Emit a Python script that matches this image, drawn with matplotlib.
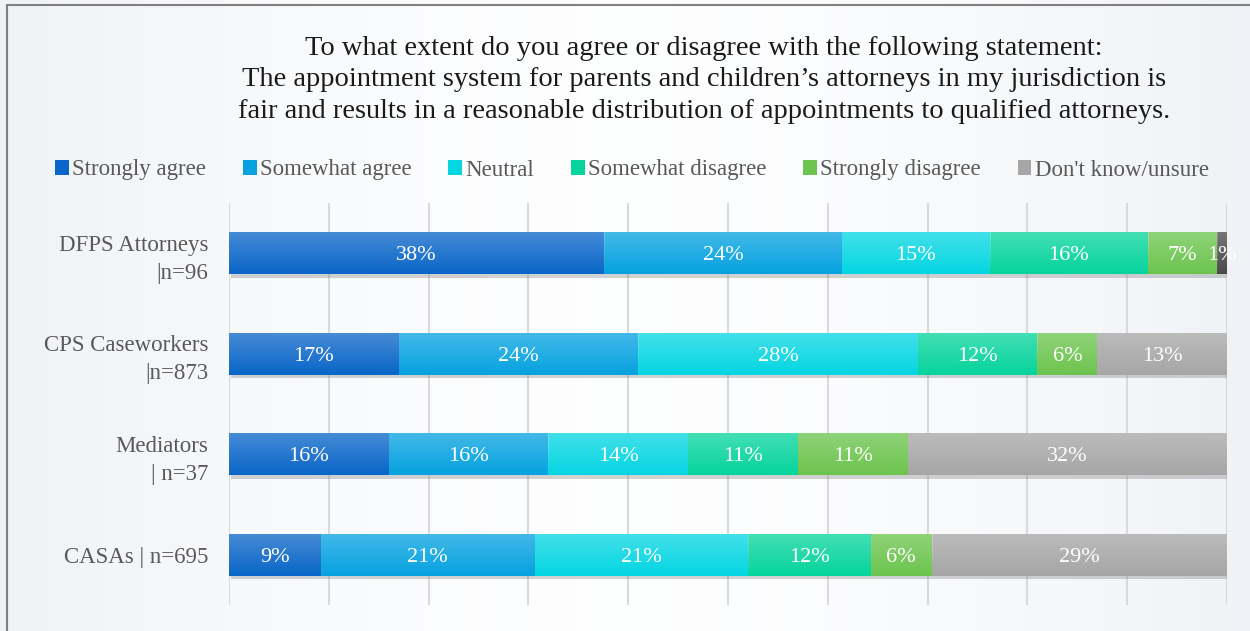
import numpy as np
import matplotlib.pyplot as plt
from matplotlib.patches import Patch, Rectangle

# survey responses (percent, as labelled)
groups = ['DFPS Attorneys\n|n=96', 'CPS Caseworkers\n|n=873', 'Mediators\n| n=37', 'CASAs | n=695']
responses = ['Strongly agree', 'Somewhat agree', 'Neutral', 'Somewhat disagree',
             'Strongly disagree', "Don't know/unsure"]
strongly_agree = [38, 17, 16, 9]
somewhat_agree = [24, 24, 16, 21]
neutral = [15, 28, 14, 21]
somewhat_disagree = [16, 12, 11, 12]
strongly_disagree = [7, 6, 11, 6]
dont_know = [1, 13, 32, 29]

colors = ['#0a66c8', '#06a2e0', '#05d6e2', '#06d49c', '#6cc44e', '#a6a6a6']

plt.rcParams['font.family'] = ['Liberation Serif', 'DejaVu Serif']

fig = plt.figure(figsize=(12.5, 6.31), dpi=100)
fig.patch.set_facecolor('#f6f8fa')

# soft horizontal background gradient (light edges, near white in the middle)
bg = fig.add_axes([0, 0, 1, 1], zorder=-10)
t = np.abs(np.linspace(-1, 1, 256)) ** 1.5
edge = np.array([0.94, 0.95, 0.965])
mid = np.array([0.995, 0.997, 1.0])
rgb = mid[None, :] * (1 - t[:, None]) + edge[None, :] * t[:, None]
bg.imshow(rgb[None, :, :], aspect='auto', extent=[0, 1, 0, 1])
bg.set_axis_off()
fig.add_artist(Rectangle((7 / 1250, -0.1), 1.2, 1.1 - 5 / 631, transform=fig.transFigure,
                         fill=False, edgecolor='#808080', linewidth=1.5))

ax = fig.add_axes([229 / 1250, 1 - 605 / 631, 998 / 1250, 402 / 631])
ax.set_facecolor('none')

series = [strongly_agree, somewhat_agree, neutral, somewhat_disagree, strongly_disagree, dont_know]
data = np.array(series, dtype=float)
totals = data.sum(axis=0)
shares = data / totals * 100

y = np.arange(len(groups))
h = 0.42

# bar shadows
ax.barh(y + 0.035, 100, left=0.2, height=h, color='#808080', alpha=0.35, zorder=1)

left = np.zeros(len(groups))
grad_v = np.linspace(0.25, 0, 64).reshape(-1, 1)
for i, (vals, lab) in enumerate(zip(shares, responses)):
    cols = [colors[i]] * len(groups)
    if i == 5:
        cols[0] = '#4a4a4a'
    bars = ax.barh(y, vals, left=left, height=h, color=cols, label=lab, zorder=2)
    for j, b in enumerate(bars):
        im = ax.imshow(np.dstack([np.ones((64, 1, 3)), grad_v]), aspect='auto',
                       extent=[left[j], left[j] + vals[j], y[j] + h / 2, y[j] - h / 2],
                       zorder=3)
        im.set_clip_path(b)
        ax.text(left[j] + vals[j] / 2, y[j], f'{int(data[i, j])}%', ha='center',
                va='center_baseline', color='white', fontsize=16, zorder=4)
    left += vals

ax.set_xlim(0, 100)
ax.set_ylim(3.5, -0.5)
ax.set_xticks(np.arange(0, 101, 10))
ax.tick_params(axis='x', length=0, labelbottom=False)
ax.tick_params(axis='y', length=0, pad=15)
ax.set_yticks(y)
ax.set_yticklabels(groups, fontsize=16.5, color='#595959', ha='right', linespacing=1.45)
for lbl in ax.get_yticklabels():
    lbl.set_va('center_baseline')
ax.grid(axis='x', color='#d9d9d9', linewidth=1.5, zorder=0)
ax.set_axisbelow(True)
for s in ax.spines.values():
    s.set_visible(False)

fig.text(0.5632, 1 - 80 / 631,
         'To what extent do you agree or disagree with the following statement:\n'
         'The appointment system for parents and children\u2019s attorneys in my jurisdiction is\n'
         'fair and results in a reasonable distribution of appointments to qualified attorneys.',
         ha='center', va='center', fontsize=20.5, color='#1a1a1a', linespacing=1.33)

handles = [Patch(facecolor=c) for c in colors]
fig.legend(handles, responses, loc='center', bbox_to_anchor=(0.5056, 1 - 170 / 631), ncol=6,
           frameon=False, fontsize=16.5, handlelength=0.6, handleheight=0.6,
           handletextpad=0.15, columnspacing=1.6, labelcolor='#595959')

fig.savefig('out.png', dpi=100, facecolor=fig.get_facecolor())
